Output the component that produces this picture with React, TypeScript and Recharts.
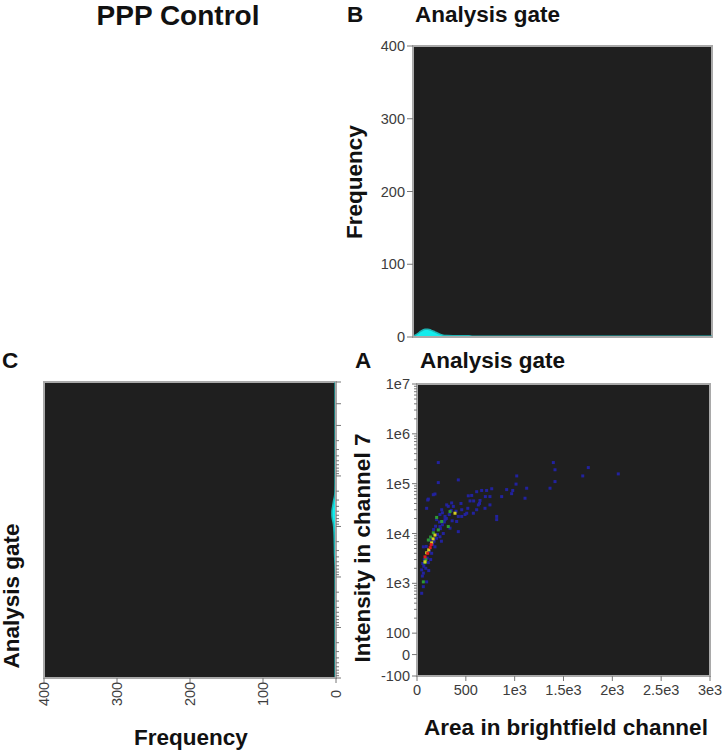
import React from "react";
import {
    AreaChart,
    Area,
    ScatterChart,
    Scatter,
    XAxis,
    YAxis,
    CartesianGrid,
    ReferenceArea,
} from "recharts";

const FONT = '"Liberation Sans", Arial, Helvetica, sans-serif';
const PLOT_BG = "#1f1f1f";
const FRAME = "#a9a9a9";
const TICK_LINE = "#777777";
const TICK_TXT = "#3c3c3c";
const CYAN = "#14ecec";
const TEAL = "#1cb4b4";

// histogram B: area in brightfield channel
const areaBins = [0, 40, 80, 120, 150, 180, 220, 260, 300, 340, 400, 480, 560, 600, 1000, 1500, 2000, 2500, 3000];
const areaFreq = [1, 4, 8, 10.5, 10.8, 9.5, 7, 4.5, 2.6, 2, 1.8, 1.8, 1.7, 1.2, 1.2, 1.2, 1.2, 1.2, 1.2];

// histogram C: intensity in channel 7
const intBins = [-100, 0, 100, 1000, 2000, 2500, 3000, 4000, 5000, 6000, 7000, 8000, 10000, 13000, 18000, 25000, 35000, 50000, 70000, 100000, 1e6, 1e7];
const intFreq = [1.2, 1.2, 1.2, 1.2, 1.4, 2, 3.2, 4.6, 5.6, 5.6, 5.1, 4.2, 3.2, 2.7, 2.4, 2.2, 2, 1.5, 1.2, 1.2, 1.2, 1.2];

const freqTicks = [0, 100, 200, 300, 400];
const areaTicks = [0, 500, 1000, 1500, 2000, 2500, 3000];
const areaLabels = ["0", "500", "1e3", "1.5e3", "2e3", "2.5e3", "3e3"];
const intMajor = [-100, 0, 100, 1e3, 1e4, 1e5, 1e6, 1e7];
const intLabels = ["-100", "0", "100", "1e3", "1e4", "1e5", "1e6", "1e7"];
const minorDecades = [100, 1e3, 1e4, 1e5, 1e6];
const minorSteps = [2, 3, 4, 5, 6, 7, 8, 9];

// scatter A: [area, intensity], grouped by density colour
const redDots = [[82, 3400], [110, 4000], [135, 5200], [145, 6000]];
const yellowDots = [[99, 4100], [150, 6500], [184, 9300], [82, 2700], [120, 4700], [389, 25500], [165, 7800]];
const greenDots = [
    [116, 7400], [218, 11800], [82, 2600], [65, 1070], [253, 17400], [167, 10300],
    [201, 21000], [338, 27500], [320, 13800], [90, 3000], [140, 8500],
];
const blueDots = [
    [218, 265000], [218, 105000], [423, 119000], [116, 49000], [184, 62000], [110, 47000], [167, 60000],
    [1396, 265000], [1413, 190000], [1754, 210000], [2061, 157000], [1697, 143000], [1021, 143000],
    [1413, 110000], [1362, 81000], [1123, 81000], [1014, 98000], [1106, 51000],
    [980, 73000], [969, 63000], [918, 76000], [867, 55000], [765, 79000], [713, 73000], [662, 73000],
    [611, 69000], [525, 57000], [543, 45000], [645, 46000], [628, 37500], [747, 55000],
    [747, 37500], [816, 19000], [816, 22000], [696, 32000], [611, 30000], [577, 25500], [509, 25500],
    [458, 30000], [458, 22000], [492, 24000], [423, 22000], [406, 17400], [423, 10900], [338, 12800],
    [304, 37500], [320, 35000], [355, 41000], [372, 35000], [253, 30000], [235, 24000], [287, 19000],
    [201, 19000], [99, 32000], [235, 13800], [287, 22000],
    [65, 5400], [48, 1860], [65, 1600], [65, 857], [48, 631], [99, 1070], [150, 4000], [184, 5400],
    [235, 8600], [269, 10000], [133, 7400], [116, 2600],
    [70, 2200], [90, 2000], [105, 3200], [125, 4400], [160, 6000], [175, 7000], [200, 8000], [210, 9500],
    [240, 12500], [260, 15000], [280, 17000], [300, 20000], [330, 24000], [350, 29000], [260, 26000],
    [230, 17000], [190, 14000], [170, 12000], [95, 5500], [75, 3000], [60, 2500], [55, 1400], [120, 1800],
    [140, 3000], [250, 7000], [360, 18000], [400, 28000], [450, 40000], [520, 32000], [580, 45000],
    [640, 40000], [700, 55000], [560, 58000],
];

// biexponential-ish display transform: linear around zero, log above 100
const tr = (v: number) => (v >= 100 ? Math.log10(v) - 2 : ((v - 100) / 200) * 0.86);
const intDomain = [tr(-100), tr(1e7)];
const majorT = intMajor.map(tr);
const minorT = minorDecades.flatMap((d) => minorSteps.map((s) => tr(d * s)));
const allIntTicks = [...majorT, ...minorT].sort((a, b) => a - b);

const histB = areaBins.map((x, i) => ({ x, f: areaFreq[i] }));
const histC = intBins.map((v, i) => ({ t: tr(v), f: intFreq[i] }));
const toPts = (list: number[][]) => list.map(([x, v]) => ({ x, t: tr(v) }));

const majorIndex = (t: number) => majorT.findIndex((m) => Math.abs(m - t) < 1e-9);

const LeftLogTick = (p: any) => {
    const i = majorIndex(p.payload.value);
    return (
        <g>
            <line x1={p.x - (i >= 0 ? 5 : 3)} x2={p.x} y1={p.y} y2={p.y} stroke={TICK_LINE} />
            {i >= 0 && (
                <text x={p.x - 7} y={p.y} dy="0.35em" textAnchor="end" fontSize={14.5} fill={TICK_TXT} fontFamily={FONT}>
                    {intLabels[i]}
                </text>
            )}
        </g>
    );
};

const RightLogTick = (p: any) => {
    const i = majorIndex(p.payload.value);
    return <line x1={p.x} x2={p.x + (i >= 0 ? 5 : 3)} y1={p.y} y2={p.y} stroke={TICK_LINE} />;
};

const RotTick = (p: any) => (
    <text
        x={p.x}
        y={p.y}
        dy="0.35em"
        transform={`rotate(-90, ${p.x}, ${p.y})`}
        textAnchor="middle"
        fontSize={14.5}
        fill={TICK_TXT}
        fontFamily={FONT}
    >
        {p.payload.value}
    </text>
);

const Dot = (p: any) => <rect x={p.cx - 1.5} y={p.cy - 1.5} width={3} height={3} fill={p.fill} />;

const tickStyle = { fontSize: 14.5, fill: TICK_TXT, fontFamily: FONT };
const titleStyle = { fontFamily: FONT, fontWeight: 700, fontSize: 22.5, fill: "#111" };

export default function App() {
    return (
        <div style={{ position: "absolute", left: 0, top: 0, width: 724, height: 752, background: "#fff" }}>
            {/* B: area histogram */}
            <div style={{ position: "absolute", left: 340, top: 30 }}>
                <AreaChart width={380} height={320} data={histB} margin={{ top: 16, right: 8, bottom: 3, left: 0 }}>
                    <CartesianGrid fill={PLOT_BG} horizontal={false} vertical={false} />
                    <ReferenceArea x1={0} x2={3000} y1={0} y2={400} fill="none" stroke={FRAME} strokeWidth={2} />
                    <XAxis
                        type="number"
                        dataKey="x"
                        domain={[0, 3000]}
                        ticks={areaTicks}
                        tick={false}
                        height={10}
                        tickSize={5}
                        tickLine={{ stroke: TICK_LINE }}
                        axisLine={{ stroke: FRAME, strokeWidth: 2 }}
                    />
                    <YAxis
                        type="number"
                        domain={[0, 400]}
                        ticks={freqTicks}
                        width={73}
                        tickSize={6}
                        tickMargin={2}
                        tick={tickStyle}
                        tickLine={{ stroke: TICK_LINE }}
                        axisLine={{ stroke: FRAME, strokeWidth: 2 }}
                    />
                    <Area
                        type="monotone"
                        dataKey="f"
                        fill={CYAN}
                        fillOpacity={1}
                        stroke={TEAL}
                        strokeWidth={1.5}
                        isAnimationActive={false}
                    />
                </AreaChart>
            </div>

            {/* C: intensity histogram (sideways) */}
            <div style={{ position: "absolute", left: 0, top: 370 }}>
                <AreaChart
                    layout="vertical"
                    width={345}
                    height={382}
                    data={histC}
                    margin={{ top: 12, right: 0, bottom: 0, left: 44 }}
                >
                    <CartesianGrid fill={PLOT_BG} horizontal={false} vertical={false} />
                    <ReferenceArea x1={0} x2={400} y1={intDomain[0]} y2={intDomain[1]} fill="none" stroke={FRAME} strokeWidth={2} />
                    <XAxis
                        type="number"
                        domain={[0, 400]}
                        ticks={freqTicks}
                        reversed
                        height={74}
                        tickSize={5}
                        tickMargin={11}
                        tick={RotTick}
                        tickLine={{ stroke: TICK_LINE }}
                        axisLine={{ stroke: FRAME, strokeWidth: 2 }}
                    />
                    <YAxis
                        type="number"
                        dataKey="t"
                        orientation="right"
                        domain={intDomain}
                        ticks={allIntTicks}
                        interval={0}
                        width={9}
                        tickSize={0}
                        tickMargin={0}
                        tickLine={false}
                        tick={RightLogTick}
                        axisLine={{ stroke: FRAME, strokeWidth: 2 }}
                    />
                    <Area
                        type="monotone"
                        dataKey="f"
                        fill={CYAN}
                        fillOpacity={1}
                        stroke={TEAL}
                        strokeWidth={1.5}
                        isAnimationActive={false}
                    />
                </AreaChart>
            </div>

            {/* A: scatter */}
            <div style={{ position: "absolute", left: 340, top: 370 }}>
                <ScatterChart width={384} height={382} margin={{ top: 14, right: 14, bottom: 0, left: 0 }}>
                    <CartesianGrid fill={PLOT_BG} horizontal={false} vertical={false} />
                    <ReferenceArea x1={0} x2={3000} y1={intDomain[0]} y2={intDomain[1]} fill="none" stroke={FRAME} strokeWidth={2} />
                    <XAxis
                        type="number"
                        dataKey="x"
                        domain={[0, 3000]}
                        ticks={areaTicks}
                        tickFormatter={(v: number) => areaLabels[areaTicks.indexOf(v)]}
                        height={76}
                        tickSize={5}
                        tickMargin={4}
                        tick={tickStyle}
                        tickLine={{ stroke: TICK_LINE }}
                        axisLine={{ stroke: FRAME, strokeWidth: 2 }}
                    />
                    <YAxis
                        type="number"
                        dataKey="t"
                        domain={intDomain}
                        ticks={allIntTicks}
                        interval={0}
                        width={77}
                        tickSize={0}
                        tickMargin={0}
                        tickLine={false}
                        tick={LeftLogTick}
                        axisLine={{ stroke: FRAME, strokeWidth: 2 }}
                    />
                    <Scatter data={toPts(blueDots)} fill="#22229e" shape={Dot} isAnimationActive={false} />
                    <Scatter data={toPts(greenDots)} fill="#2e9a34" shape={Dot} isAnimationActive={false} />
                    <Scatter data={toPts(yellowDots)} fill="#d6cf22" shape={Dot} isAnimationActive={false} />
                    <Scatter data={toPts(redDots)} fill="#e01c1c" shape={Dot} isAnimationActive={false} />
                </ScatterChart>
            </div>

            {/* titles and axis names */}
            <svg width={724} height={752} style={{ position: "absolute", left: 0, top: 0, pointerEvents: "none" }}>
                <text x={178} y={25} textAnchor="middle" style={{ ...titleStyle, fontSize: 28 }}>PPP Control</text>
                <text x={347} y={22} style={titleStyle}>B</text>
                <text x={415} y={22} style={titleStyle}>Analysis gate</text>
                <text x={2} y={368} style={titleStyle}>C</text>
                <text x={355} y={368} style={titleStyle}>A</text>
                <text x={420} y={368} style={titleStyle}>Analysis gate</text>
                <text x={362} y={182} textAnchor="middle" transform="rotate(-90, 362, 182)" style={titleStyle}>Frequency</text>
                <text x={19} y={596} textAnchor="middle" transform="rotate(-90, 19, 596)" style={titleStyle}>Analysis gate</text>
                <text x={370} y={548} textAnchor="middle" transform="rotate(-90, 370, 548)" style={titleStyle}>Intensity in channel 7</text>
                <text x={191} y={745} textAnchor="middle" style={titleStyle}>Frequency</text>
                <text x={566} y={735} textAnchor="middle" style={titleStyle}>Area in brightfield channel</text>
            </svg>
        </div>
    );
}
